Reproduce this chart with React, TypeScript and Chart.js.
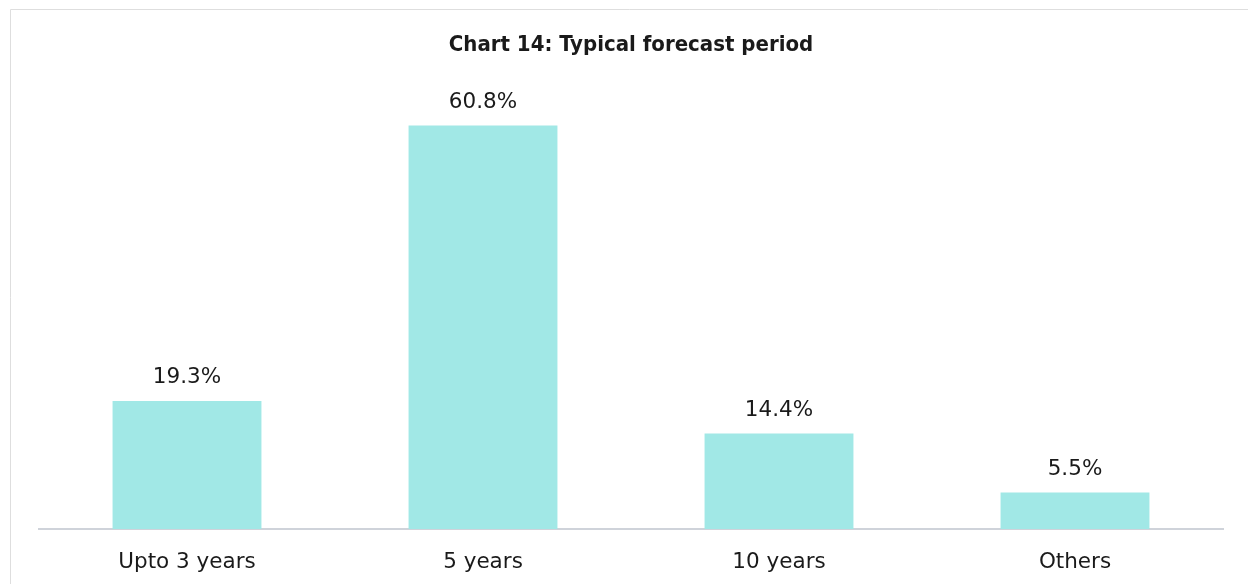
import React, { useEffect, useRef } from "react";
import { Chart, registerables } from "chart.js";

Chart.register(...registerables);

const categories = ["Upto 3 years", "5 years", "10 years", "Others"];
const values = [19.3, 60.8, 14.4, 5.5];
const valueLabels = ["19.3%", "60.8%", "14.4%", "5.5%"];
const chartTitle = "Chart 14: Typical forecast period";

const FONT = "'DejaVu Sans', 'Noto Sans', sans-serif";

const framePlugin = {
  id: "frame",
  beforeDraw(chart: any) {
    const ctx = chart.ctx;
    ctx.save();
    ctx.strokeStyle = "#dedede";
    ctx.lineWidth = 1;
    ctx.beginPath();
    ctx.moveTo(10.5, 590);
    ctx.lineTo(10.5, 9.5);
    ctx.lineTo(1248, 9.5);
    ctx.stroke();
    ctx.restore();
  },
};

const labelPlugin = {
  id: "valueLabels",
  afterDatasetsDraw(chart: any) {
    const ctx = chart.ctx;
    const meta = chart.getDatasetMeta(0);
    ctx.save();
    ctx.font = `21.5px ${FONT}`;
    ctx.fillStyle = "#1a1a1a";
    ctx.textAlign = "center";
    ctx.textBaseline = "middle";
    meta.data.forEach((bar: any, i: number) => {
      ctx.fillText(valueLabels[i], bar.x, bar.y - 23);
    });
    ctx.restore();
  },
};

export default function App() {
  const ref = useRef<HTMLCanvasElement | null>(null);
  useEffect(() => {
    if (!ref.current) return;
    const chart = new Chart(ref.current, {
      type: "bar",
      data: {
        labels: categories,
        datasets: [
          {
            data: values,
            backgroundColor: "#a1e8e6",
            barPercentage: 0.503,
            categoryPercentage: 1,
          },
        ],
      },
      options: {
        animation: false,
        responsive: false,
        maintainAspectRatio: false,
        layout: { padding: { left: 39, right: 25, top: 0, bottom: 0 } },
        plugins: {
          legend: { display: false },
          tooltip: { enabled: false },
          title: {
            display: true,
            text: chartTitle,
            color: "#1a1a1a",
            font: { family: "'DejaVu Sans Condensed', 'Liberation Sans Narrow', sans-serif", size: 22, weight: "bold" },
            padding: { top: 32, bottom: 6 },
          },
        },
        scales: {
          x: {
            grid: { display: false, drawTicks: false },
            border: { display: true, color: "#cfd3da", width: 2 },
            ticks: { color: "#1a1a1a", font: { family: FONT, size: 21.5 }, padding: 21 },
            afterFit: (scale: any) => {
              scale.height = 55;
            },
          },
          y: {
            display: false,
            min: 0,
            max: 70,
          },
        },
      },
      plugins: [framePlugin, labelPlugin],
    });
    return () => chart.destroy();
  }, []);
  return (
    <div style={{ position: "fixed", left: 0, top: 0, width: 1248, height: 584, background: "#fff" }}>
      <canvas ref={ref} width={1248} height={584} style={{ width: 1248, height: 584, display: "block" }} />
    </div>
  );
}
